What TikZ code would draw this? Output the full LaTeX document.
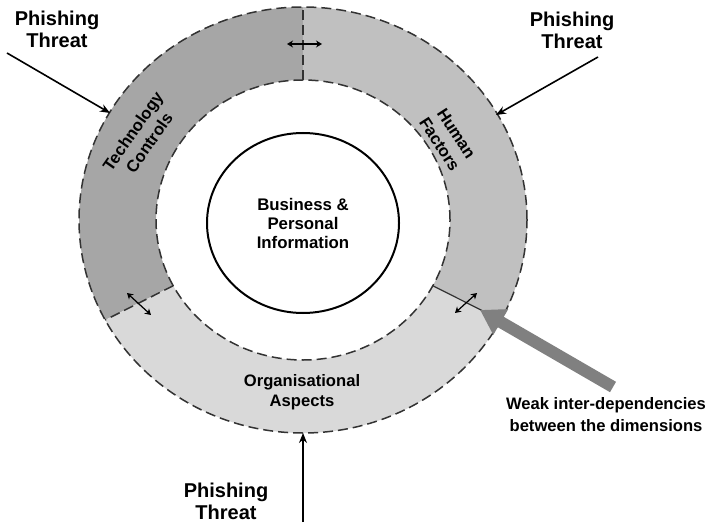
\documentclass[tikz,border=0pt]{standalone}
\usepackage{fontspec}
\setmainfont{Liberation Sans}
\usepackage{xcolor}
\usepackage{tikz}
\usetikzlibrary{arrows.meta,calc}

\definecolor{techgray}{RGB}{166,166,166}
\definecolor{humangray}{RGB}{192,192,192}
\definecolor{orggray}{RGB}{217,217,217}
\definecolor{weakgray}{RGB}{128,128,128}

\begin{document}
\begin{tikzpicture}[
  x=0.5pt, y=0.5pt,
  ringline/.style={draw=black!80, line width=0.75pt, dash pattern=on 5pt off 2.5pt},
  threat/.style={align=center, font=\fontsize{10}{11}\selectfont\bfseries},
  dimlabel/.style={align=center, font=\fontsize{8.3}{10}\selectfont\bfseries},
  hit/.style={-{Stealth[length=5pt,width=4pt]}, line width=0.8pt},
  weak/.style={<->, >={Stealth[length=3pt,width=3.5pt]}, line width=0.6pt},
]
\useasboundingbox (0,0) rectangle (710,525);
\coordinate (C) at (303,305);
% ring sectors
\fill[techgray] ($(C)+(90:224 and 213)$) arc[start angle=90, end angle=208, x radius=224, y radius=213]
  -- ($(C)+(208:147 and 140)$) arc[start angle=208, end angle=90, x radius=147, y radius=140] -- cycle;
\fill[humangray] ($(C)+(-28:224 and 213)$) arc[start angle=-28, end angle=90, x radius=224, y radius=213]
  -- ($(C)+(90:147 and 140)$) arc[start angle=90, end angle=-28, x radius=147, y radius=140] -- cycle;
\fill[orggray] ($(C)+(208:224 and 213)$) arc[start angle=208, end angle=332, x radius=224, y radius=213]
  -- ($(C)+(332:147 and 140)$) arc[start angle=332, end angle=208, x radius=147, y radius=140] -- cycle;
\draw[ringline] (C) ellipse[x radius=224, y radius=213];
\draw[ringline] (C) ellipse[x radius=147, y radius=140];
% borders between the dimensions
\coordinate (topin) at ($(C)+(90:147 and 140)$);
\coordinate (topout) at ($(C)+(90:224 and 213)$);
\coordinate (leftin) at ($(C)+(208:147 and 140)$);
\coordinate (leftout) at ($(C)+(208:224 and 213)$);
\coordinate (rightin) at ($(C)+(332:147 and 140)$);
\coordinate (rightout) at ($(C)+(332:224 and 213)$);
\draw[ringline] (topin) -- (topout);
\draw[ringline] (leftin) -- (leftout);
\draw[black!80, line width=0.6pt] (rightin) -- (rightout);
% core
\draw[line width=1pt] (303,302) ellipse[x radius=96, y radius=90];
\node[dimlabel, font=\fontsize{8.4}{9.5}\selectfont\bfseries] (info) at (303,302) {Business \&\\Personal\\Information};
% dimensions
\node[dimlabel, rotate=55] (tech) at (141,388) {Technology\\Controls};
\node[dimlabel, rotate=-57] (human) at (448,386) {Human\\Factors};
\node[dimlabel] (org) at (302,133) {Organisational\\Aspects};
% threats
\node[threat] (threatTL) at (57,496) {Phishing\\Threat};
\node[threat] (threatTR) at (572,495) {Phishing\\Threat};
\node[threat] (threatB) at (226,24) {Phishing\\Threat};
\coordinate (tlstart) at (7,472);
\coordinate (tlend) at (110,412);
\coordinate (trstart) at (598,468);
\coordinate (trend) at (496,410);
\coordinate (bstart) at (303,3);
\coordinate (bend) at (303,92);
\draw[hit] (tlstart) -- (tlend);
\draw[hit] (trstart) -- (trend);
\draw[hit, line width=0.7pt] (bstart) -- (bend);
% weak links
\coordinate (wtopa) at (287,481);
\coordinate (wtopb) at (322,481);
\coordinate (wlefta) at (127,232);
\coordinate (wleftb) at (151,210);
\coordinate (wrighta) at (477,232);
\coordinate (wrightb) at (455,212);
\draw[weak] (wtopa) -- (wtopb);
\draw[weak] (wlefta) -- (wleftb);
\draw[weak] (wrighta) -- (wrightb);
\node[threat, font=\fontsize{8.3}{11}\selectfont\bfseries] (weaktext) at (606,110) {Weak inter-dependencies\\between the dimensions};
\coordinate (gstart) at (613,138);
\coordinate (gend) at (480,215);
\draw[weakgray, line width=6pt, -{Triangle[length=12pt,width=14pt]}] (gstart) -- (gend);
\end{tikzpicture}
\end{document}
